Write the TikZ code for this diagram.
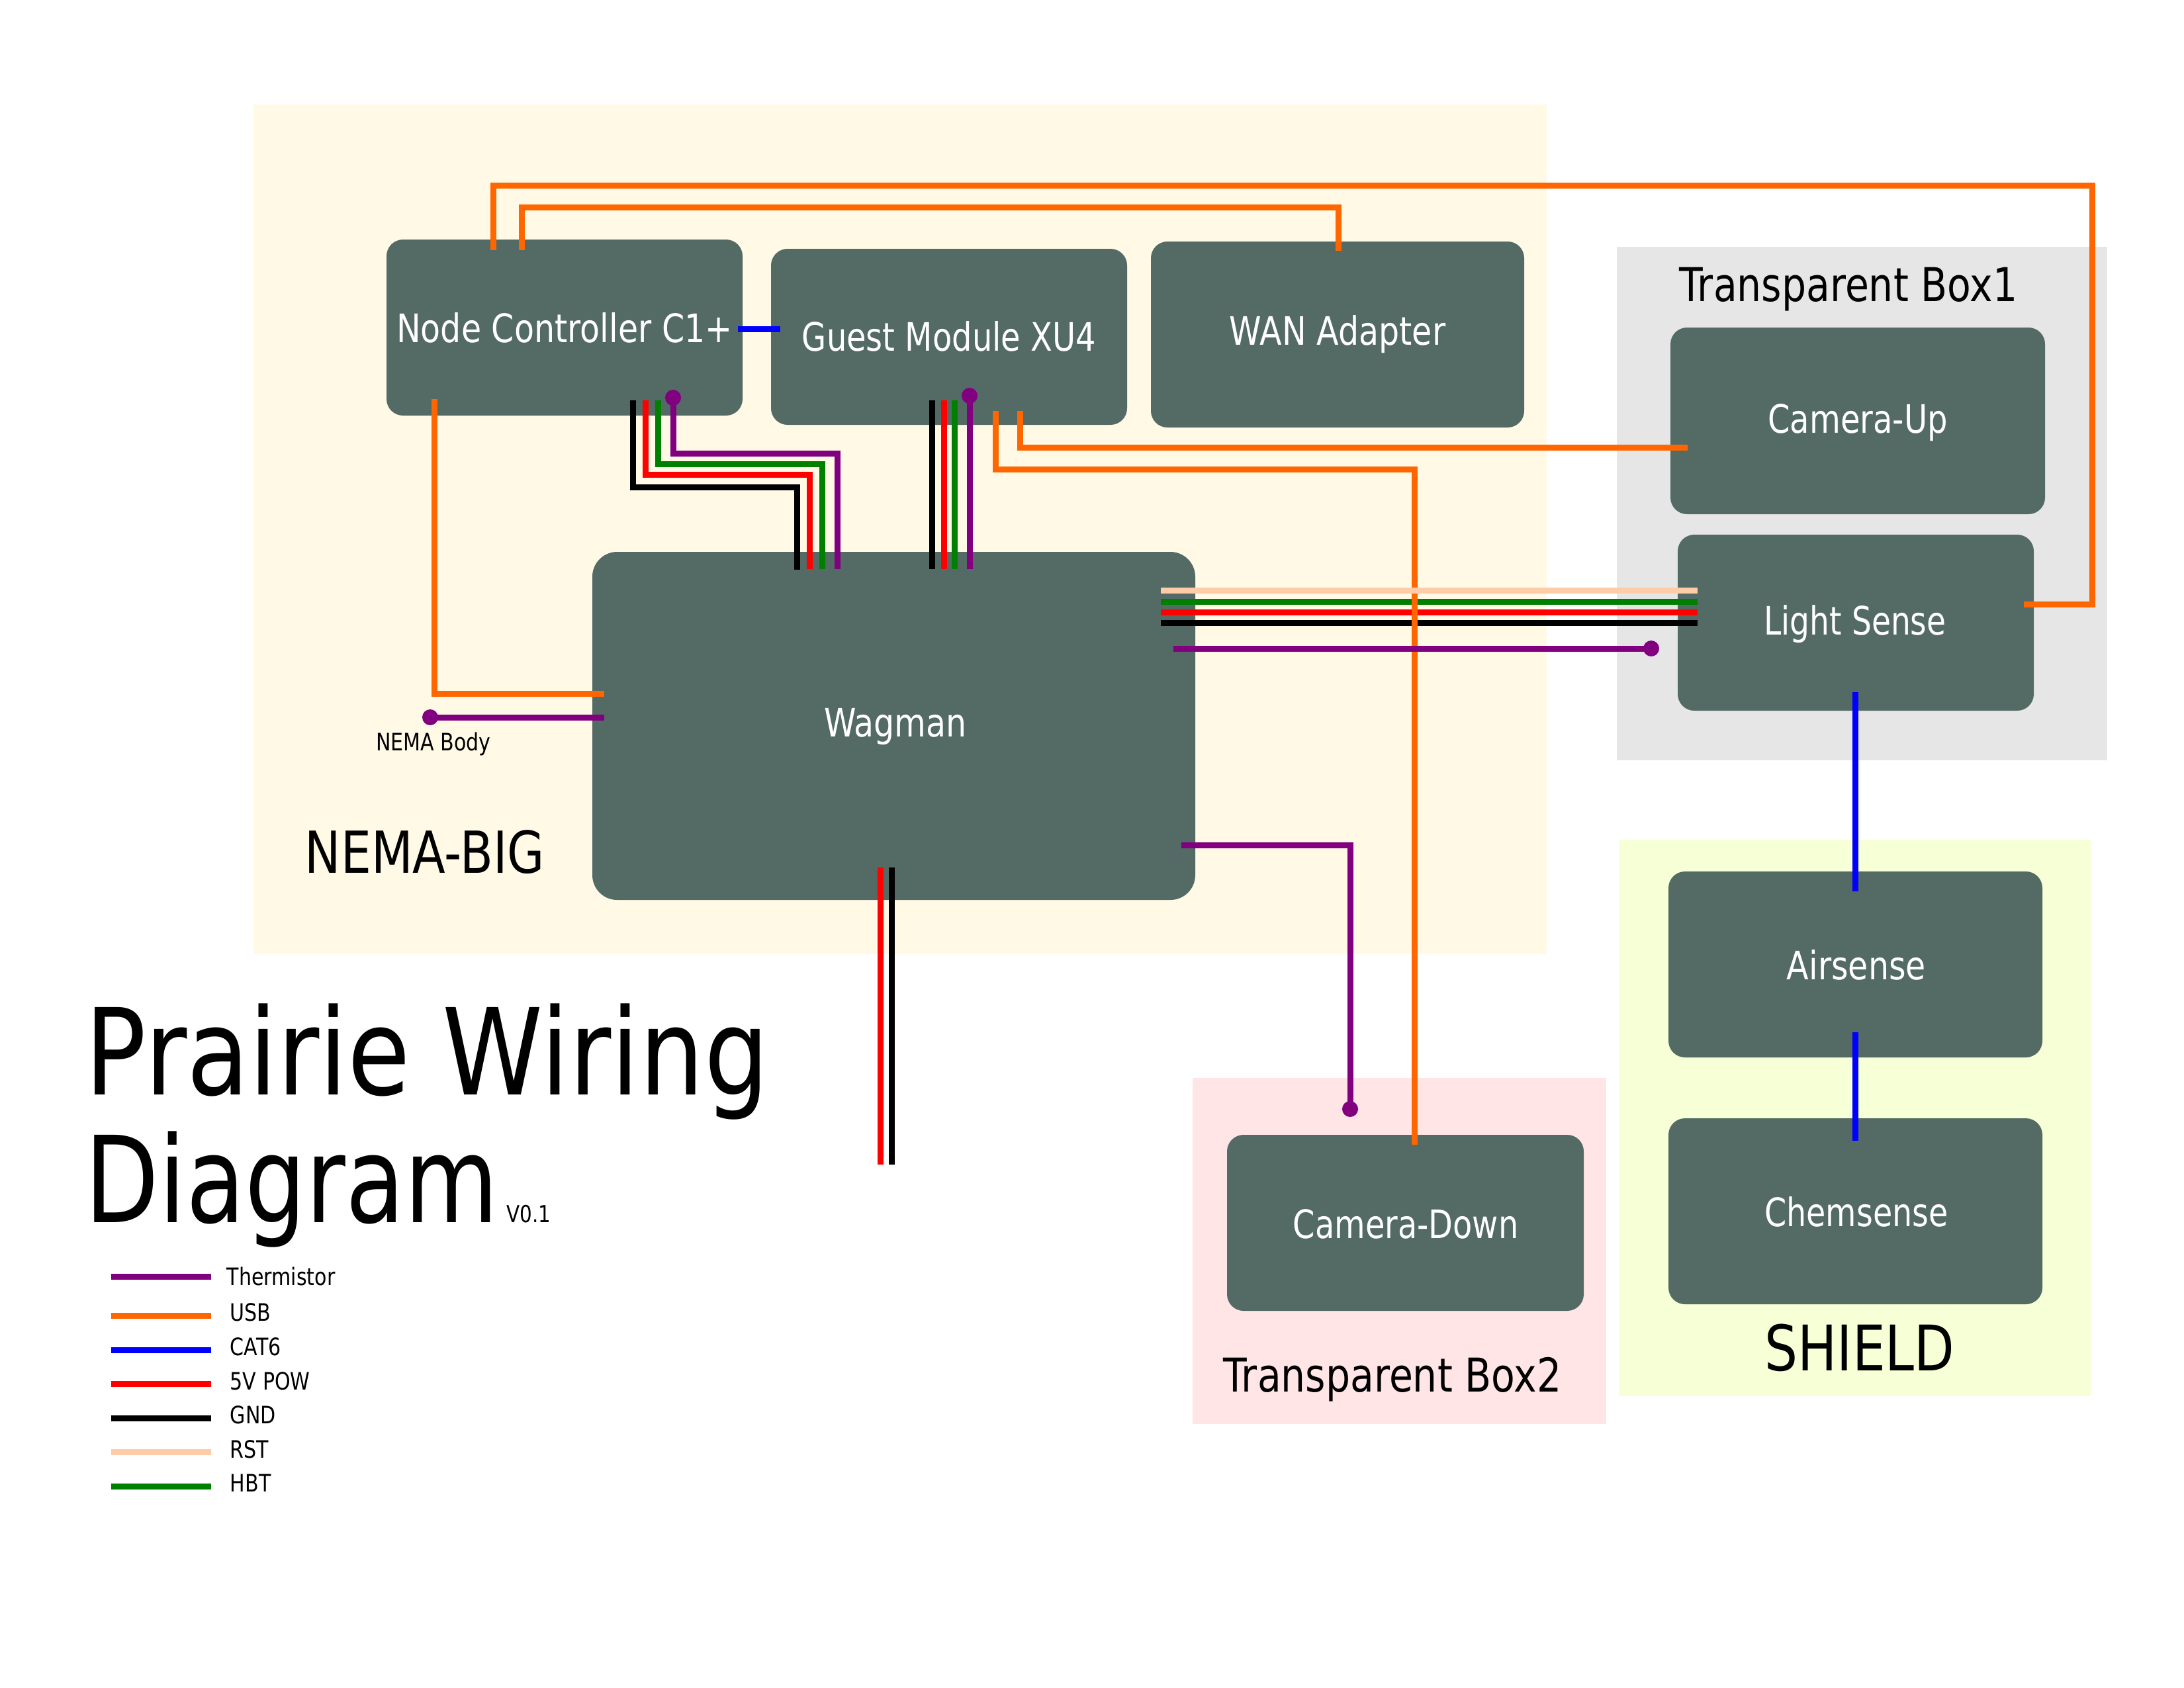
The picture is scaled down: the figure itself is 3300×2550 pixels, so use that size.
\documentclass[tikz,border=0pt]{standalone}
\usepackage{fontspec}
\setmainfont[FakeStretch=0.83]{DejaVu Sans}
\definecolor{boxc}{HTML}{536A65}
\definecolor{nema}{HTML}{FFF9E6}
\definecolor{tbox}{HTML}{E6E6E6}
\definecolor{shield}{HTML}{F6FFD5}
\definecolor{pinkb}{HTML}{FFE5E5}
\definecolor{usbc}{HTML}{FF6600}
\definecolor{therm}{HTML}{800080}
\definecolor{hbtc}{HTML}{008000}
\definecolor{rstc}{HTML}{FFCCAA}
\definecolor{catc}{HTML}{0000FF}
\definecolor{powc}{HTML}{FF0000}
\tikzset{
  modlabel/.style={text=white,font=\fontsize{14.2}{16}\selectfont,inner sep=0pt},
  zonelabel/.style={text=black,font=\fontsize{16.9}{18}\selectfont,inner sep=0pt},
  legendtext/.style={text=black,font=\fontsize{8.7}{10}\selectfont,anchor=base west,inner sep=0pt},
  wire/.style={line width=2.16pt,line cap=butt,line join=miter},
  usb/.style={wire,draw=usbc},
  thermw/.style={wire,draw=therm},
  cat/.style={wire,draw=catc},
  powr/.style={wire,draw=powc},
  gnd/.style={wire,draw=black},
  rst/.style={wire,draw=rstc},
  hbt/.style={wire,draw=hbtc},
  dotend/.style={circle,fill=therm,minimum size=5.76pt,inner sep=0pt,outer sep=0pt},
}
\newcommand{\Z}[6]{\fill[#2] (#3,#4) rectangle (#5,#6); \coordinate (#1) at (#3,#4);}
\begin{document}
\begin{tikzpicture}[x=0.24pt,y=-0.24pt]
\useasboundingbox[fill=white] (0,0) rectangle (3300,2550);
% zones
\Z{nemaz}{nema}{383}{158}{2337}{1442}
\Z{tboxa}{tbox}{2443}{373}{3184}{1149}
\Z{shieldz}{shield}{2446}{1269}{3159}{2110}
\Z{tboxb}{pinkb}{1802}{1629}{2427}{2152}
% modules
\path[fill=boxc,rounded corners=6pt] (584,362) rectangle (1122,628);
\node[modlabel] (nc) at (853,495) {Node Controller C1+};
\path[fill=boxc,rounded corners=6pt] (1165,376) rectangle (1703,642);
\node[modlabel] (gm) at (1434,508) {\scalebox{0.977}[1]{Guest Module XU4}};
\path[fill=boxc,rounded corners=6pt] (1739,365) rectangle (2303,646);
\node[modlabel] (wan) at (2021,505) {WAN Adapter};
\path[fill=boxc,rounded corners=9pt] (895,834) rectangle (1806,1360);
\node[modlabel] (wag) at (1353,1098) {Wagman};
\path[fill=boxc,rounded corners=6pt] (2524,495) rectangle (3090,777);
\node[modlabel] (camup) at (2807,639) {\scalebox{0.98}[1]{Camera-Up}};
\path[fill=boxc,rounded corners=6pt] (2535,808) rectangle (3073,1074);
\node[modlabel] (light) at (2803,943) {\scalebox{0.96}[1]{Light Sense}};
\path[fill=boxc,rounded corners=6pt] (2521,1317) rectangle (3086,1598);
\node[modlabel] (air) at (2805,1458) {Airsense};
\path[fill=boxc,rounded corners=6pt] (2521,1690) rectangle (3086,1971);
\node[modlabel] (chem) at (2805,1831) {\scalebox{0.97}[1]{Chemsense}};
\path[fill=boxc,rounded corners=6pt] (1854,1715) rectangle (2393,1981);
\node[modlabel] (camdn) at (2124,1850) {\scalebox{0.975}[1]{Camera-Down}};
% zone labels
\node[zonelabel,anchor=west,font=\fontsize{21}{22}\selectfont] (nemal) at (460,1288) {NEMA-BIG};
\node[zonelabel] (tba) at (2793,437) {Transparent Box1};
\node[zonelabel] (tbb) at (2104,2085) {Transparent Box2};
\node[zonelabel,font=\fontsize{22.8}{24}\selectfont] (shl) at (2810,2037) {SHIELD};
\node[legendtext,anchor=center] (nb) at (655,1124) {NEMA Body};
% title
\node[anchor=base west,inner sep=0pt,font=\fontsize{43.5}{46}\selectfont] (t1) at (128,1654) {\scalebox{1.023}[1]{Prairie Wiring}};
\node[anchor=base west,inner sep=0pt,font=\fontsize{43.5}{46}\selectfont] (t2) at (128,1847) {\scalebox{0.966}[1]{Diagram}};
\node[anchor=base west,inner sep=0pt,font=\fontsize{8.5}{10}\selectfont] (ver) at (765,1847) {V0.1};
% coordinates of free wire ends
\coordinate (nc-a) at (745,378); \coordinate (nc-b) at (788,378);
\coordinate (wan-a) at (2022,379);
\coordinate (ls-a) at (3058,913);
\coordinate (nc-c) at (656,603); \coordinate (wag-a) at (913,1048);
\coordinate (wag-t) at (913,1084);
\coordinate (cu-a) at (2550,676);
\coordinate (cd-a) at (2137,1730);
\coordinate (gm-a) at (1504,621); \coordinate (gm-b) at (1541,621);
\coordinate (nc-l) at (1115,497); \coordinate (gm-l) at (1179,497);
% wires
\draw[gnd] (956,605) -- (956,736) -- (1204,736) -- (1204,861);
\draw[powr] (975,605) -- (975,717) -- (1223,717) -- (1223,860);
\draw[hbt] (994,605) -- (994,701) -- (1242,701) -- (1242,860);
\draw[gnd] (1408,605) -- (1408,860);
\draw[powr] (1426,605) -- (1426,860);
\draw[hbt] (1442,605) -- (1442,860);
\draw[gnd] (1754,941) -- (2565,941);
\draw[powr] (1754,925) -- (2565,925);
\draw[hbt] (1754,909) -- (2565,909);
\draw[powr] (1330,1311) -- (1330,1760);
\draw[gnd] (1347,1311) -- (1347,1760);
\draw[usb] (nc-a) |- (3161,280) |- (ls-a);
\draw[usb] (nc-b) |- (2022,313) -- (wan-a);
\draw[usb] (nc-c) |- (wag-a);
\draw[usb] (gm-a) |- (2137,709) -- (cd-a);
\draw[usb] (gm-b) |- (cu-a);
\draw[rst] (1754,892) -- (2565,892);
\draw[cat] (nc-l) -- (gm-l);
\draw[cat] (2803,1046) -- (2803,1347);
\draw[cat] (2803,1560) -- (2803,1724);
\draw[thermw] (1017,601) -- (1017,685) -- (1265,685) -- (1265,860);
\node[dotend] (d1) at (1017,601) {};
\draw[thermw] (1465,598) -- (1465,860);
\node[dotend] (d2) at (1465,598) {};
\node[dotend] (d3) at (2495,980) {};
\draw[thermw] (1773,980) -- (d3.center);
\node[dotend] (d4) at (650,1084) {};
\draw[thermw] (d4.center) -- (wag-t);
\node[dotend] (d5) at (2040,1676) {};
\draw[thermw] (1785,1277) -| (d5.center);
% legend
\foreach \nm/\st/\yy/\bx/\by/\tx in {th/thermw/1929/342/1942/Thermistor,us/usb/1988/347/1996/USB,ca/cat/2040/347/2048/CAT6,po/powr/2091/347/2100/5V POW,gn/gnd/2143/347/2151/GND,rs/rst/2194/347/2203/RST,hb/hbt/2246/347/2254/HBT}{
  \draw[\st] (168,\yy) -- (319,\yy);
  \node[legendtext] (lg\nm) at (\bx,\by) {\tx};
}
\end{tikzpicture}
\end{document}
